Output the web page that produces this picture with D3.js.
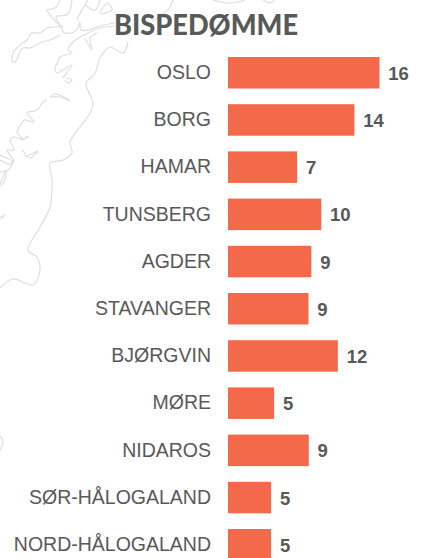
<!DOCTYPE html>
<html>
<head>
    <meta charset="utf-8">
    <style>
        html, body { margin: 0; padding: 0; background: #fff; }
        svg { display: block; }
        .title { font: 900 27.5px Lato, sans-serif; fill: #585a58; }
        .tick text { font: 19.5px "Liberation Sans", Arial, sans-serif; fill: #595959; }
        .value { font: bold 18.5px "Liberation Sans", Arial, sans-serif; fill: #595959; }
        .map path { fill: none; stroke: #dedede; stroke-width: 1.2; }
    </style>
    <script src="https://d3js.org/d3.v7.min.js"></script>
</head>
<body>
    <svg width="423" height="558"></svg>
    <script>
        var categories = ["OSLO", "BORG", "HAMAR", "TUNSBERG", "AGDER", "STAVANGER", "BJØRGVIN", "MØRE", "NIDAROS", "SØR-HÅLOGALAND", "NORD-HÅLOGALAND"];
        // bar lengths, the printed labels are rounded
        var values = [16, 13.35, 7.3, 9.85, 8.8, 8.5, 11.6, 4.87, 8.53, 4.55, 4.55];
        var valueLabels = ["16", "14", "7", "10", "9", "9", "12", "5", "9", "5", "5"];

        // faint map of the coast behind the chart, decoration only
        var mapOutlines = [
            [[128,42],[123,53],[110,47],[104,52],[100,58],[95,73],[86,83],[87,88],[93,103],[90,113],[80,127],[70,142],[72,153],[63,160],[50,163],[52,180],[50,207],[40,227],[28,250],[37,257],[40,270],[33,285],[13,279],[0,288]],
            [[12,62],[13,53],[20,45],[27,40],[32,33],[40,33],[47,28],[55,27],[62,27],[63,32],[72,33],[78,28],[80,22],[81,30],[88,30],[100,26],[115,23]],
            [[12,62],[15,62],[23,48],[30,48],[42,42],[50,40],[60,35]],
            [[115,26],[100,28],[88,33],[80,37],[72,43],[68,50],[72,53],[60,57],[58,62],[55,68],[57,73],[63,70],[72,65],[65,75],[62,78]],
            [[50,97],[55,94],[62,96],[70,101],[60,97],[50,97]],
            [[47,100],[43,102],[37,110],[27,113],[34,122],[24,120],[22,123],[17,132],[24,140],[14,137],[10,140],[14,150],[7,150],[13,160],[0,155]],
            [[0,160],[10,164],[14,160],[8,170],[0,172]],
            [[0,184],[6,170],[4,182],[0,186]],
            [[25,136],[28,137],[24,139]],
            [[21,150],[24,152],[26,156],[38,151],[30,158],[26,156]],
            [[66,78],[72,80],[68,83],[65,80]],
            [[62,28],[50,15],[47,10],[55,8],[60,0]],
            [[62,27],[56,17],[68,14],[72,0]],
            [[77,20],[82,10],[88,0]],
            [[85,5],[95,10],[100,0]],
            [[100,12],[108,3],[112,10],[100,14]],
            [[85,38],[92,50],[90,38],[97,33]],
            [[173,0],[170,7],[162,15],[152,21]],
            [[213,0],[227,3],[238,2],[245,0]],
            [[263,0],[270,3],[274,0]],
            [[2,219],[4,215],[0,218]],
            [[0,436],[3,441],[0,450]]
        ];

        var svg = d3.select("svg");

        var x = d3.scaleLinear().domain([0, 16]).range([228, 379.5]);

        var y = d3.scaleBand()
            .domain(categories)
            .range([49.15, 568.35])
            .paddingInner(0.3326)
            .paddingOuter(0.1663);

        var outline = d3.line().curve(d3.curveCatmullRom);

        svg.append("g")
            .attr("class", "map")
            .selectAll("path")
            .data(mapOutlines)
            .enter().append("path")
            .attr("d", outline);

        svg.append("text")
            .attr("class", "title")
            .attr("x", 114)
            .attr("y", 35)
            .attr("textLength", 184)
            .attr("lengthAdjust", "spacingAndGlyphs")
            .text("BISPEDØMME");

        svg.append("g")
            .selectAll("rect")
            .data(values)
            .enter().append("rect")
            .attr("x", x(0))
            .attr("y", function(d, i) { return y(categories[i]); })
            .attr("width", function(d) { return x(d) - x(0); })
            .attr("height", y.bandwidth())
            .attr("fill", "#f4694a");

        svg.append("g")
            .attr("transform", "translate(" + x(0) + ",0)")
            .call(d3.axisLeft(y).tickSize(0).tickPadding(17))
            .call(function(g) { g.select(".domain").remove(); });

        svg.append("g")
            .selectAll("text")
            .data(values)
            .enter().append("text")
            .attr("class", "value")
            .attr("x", function(d) { return x(d) + 8.8; })
            .attr("y", function(d, i) { return y(categories[i]) + y.bandwidth() / 2 + 0.5; })
            .attr("dy", "0.35em")
            .text(function(d, i) { return valueLabels[i]; });
    </script>
</body>
</html>
